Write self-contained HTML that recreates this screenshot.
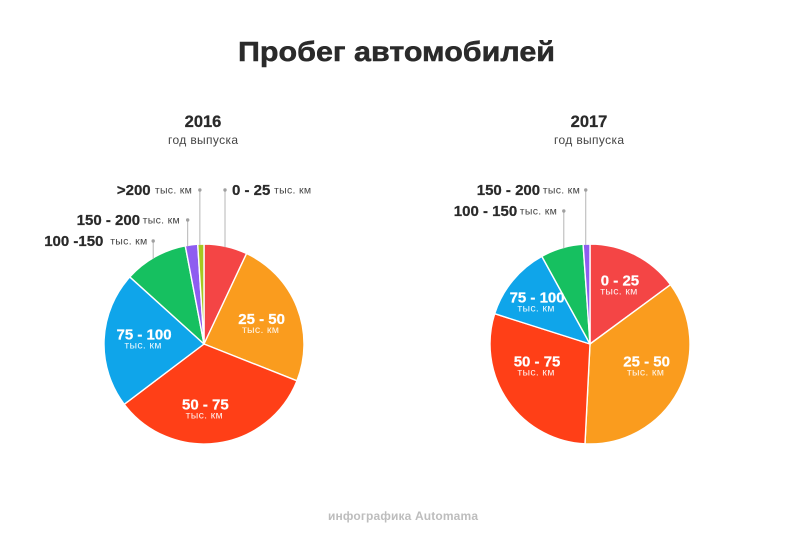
<!DOCTYPE html>
<html lang="ru">
<head>
<meta charset="utf-8">
<title>Пробег автомобилей</title>
<style>
html,body{margin:0;padding:0;background:#fff;}
svg{display:block;}
text{font-family:"Liberation Sans","DejaVu Sans",sans-serif;}
</style>
</head>
<body>
<svg id="chart" width="800" height="538" viewBox="0 0 800 538" xmlns="http://www.w3.org/2000/svg">
  <rect width="800" height="538" fill="#ffffff"/>
  <text x="396.5" y="61" text-anchor="middle" font-size="28" font-weight="700" fill="#2a2a2a" stroke="#2a2a2a" stroke-width="0.5" textLength="317" lengthAdjust="spacingAndGlyphs">Пробег автомобилей</text>
  <text x="203" y="127" text-anchor="middle" font-size="16.5" font-weight="700" fill="#2a2a2a" stroke="#2a2a2a" stroke-width="0.25">2016</text>
  <text x="203" y="144" text-anchor="middle" font-size="12" fill="#444444" textLength="70">год выпуска</text>
  <text x="589" y="127" text-anchor="middle" font-size="16.5" font-weight="700" fill="#2a2a2a" stroke="#2a2a2a" stroke-width="0.25">2017</text>
  <text x="589" y="144" text-anchor="middle" font-size="12" fill="#444444" textLength="70">год выпуска</text>
  <text x="403" y="520" text-anchor="middle" font-size="12" font-weight="700" fill="#bdbdbd" textLength="150">инфографика Automama</text>
  <g id="pie-2016"></g>
  <g id="pie-2017"></g>
</svg>
<script>
const categories = ['0 - 25', '25 - 50', '50 - 75', '75 - 100', '100 - 150', '150 - 200', '>200'];
const labels2016 = ['0 - 25', '25 - 50', '50 - 75', '75 - 100', '100 -150', '150 - 200', '>200'];
const values2016 = [7, 24, 33.7, 22, 10.3, 2, 1];
const values2017 = [14.9, 35.9, 29.1, 12.1, 6.9, 1.1, 0];
const sliceColors = ['#f44545', '#fa9c1e', '#ff3f17', '#0fa5ea', '#16c060', '#8e5df0', '#a5c820'];
const unitLabel = 'тыс. км';

const NS = 'http://www.w3.org/2000/svg';
const RADIUS = 100;

function make(parent, tag, attrs) {
  const el = document.createElementNS(NS, tag);
  for (const k in attrs) el.setAttribute(k, attrs[k]);
  parent.appendChild(el);
  return el;
}

function angleOf(values, share) {
  const total = values.reduce((a, b) => a + b, 0);
  return share / total * Math.PI * 2;
}

function polar(cx, cy, r, a) {
  return [cx + Math.sin(a) * r, cy - Math.cos(a) * r];
}

function midAngle(values, i) {
  let before = 0;
  for (let k = 0; k < i; k++) before += values[k];
  return angleOf(values, before + values[i] / 2);
}

function drawSlices(group, values, cx, cy) {
  let run = 0;
  values.forEach((v, i) => {
    if (v <= 0) return;
    const a0 = angleOf(values, run);
    const a1 = angleOf(values, run + v);
    run += v;
    const p0 = polar(cx, cy, RADIUS, a0);
    const p1 = polar(cx, cy, RADIUS, a1);
    const large = a1 - a0 > Math.PI ? 1 : 0;
    const path = make(group, 'path', {
      d: 'M' + cx + ' ' + cy + 'L' + p0[0] + ' ' + p0[1] + 'A' + RADIUS + ' ' + RADIUS + ' 0 ' + large + ' 1 ' + p1[0] + ' ' + p1[1] + 'Z',
      fill: sliceColors[i], stroke: '#ffffff', 'stroke-width': 1.4, 'stroke-linejoin': 'round'
    });
    
    
  });
}

function innerLabel(group, values, names, i, cx, cy, dx, dy) {
  const c = polar(cx, cy, 62, midAngle(values, i));
  const x = c[0] + dx;
  const y = c[1] + dy;
  const main = make(group, 'text', {
    x: x, y: y + 5, 'text-anchor': 'middle', 'font-size': 15, 'font-weight': 700, fill: '#ffffff', stroke: '#ffffff', 'stroke-width': 0.25
  });
  main.textContent = names[i];
  
  
  const sub = make(group, 'text', {
    x: x - 1, y: y + 14, 'text-anchor': 'middle', 'font-size': 10.5, fill: '#ffffff', 'fill-opacity': 0.9, 'letter-spacing': 0.3
  });
  sub.textContent = unitLabel;
  
  
}

function outerLabel(group, values, names, i, cx, cy, shift, topY, boldDx, unitDx) {
  const a = midAngle(values, i);
  const lx = polar(cx, cy, RADIUS, a)[0] + shift;
  const h = Math.sqrt(RADIUS * RADIUS - (lx - cx) * (lx - cx));
  const line = make(group, 'line', {
    x1: lx, y1: topY, x2: lx, y2: cy - h + 1, stroke: '#b5b5b5', 'stroke-width': 1
  });
  
  
  const dot = make(group, 'circle', { cx: lx, cy: topY, r: 1.7, fill: '#a0a0a0' });
  
  
  const main = make(group, 'text', {
    x: lx + boldDx, y: topY + 5, 'font-size': 15, 'font-weight': 700, fill: '#2a2a2a', stroke: '#2a2a2a', 'stroke-width': 0.25
  });
  main.textContent = names[i];
  
  
  const sub = make(group, 'text', {
    x: lx + unitDx, y: topY + 3.5, 'font-size': 10.5, fill: '#444444', 'letter-spacing': 0.3
  });
  sub.textContent = unitLabel;
  
  
}

const g16 = document.getElementById('pie-2016');
const g17 = document.getElementById('pie-2017');

drawSlices(g16, values2016, 204, 344);
innerLabel(g16, values2016, labels2016, 1, 204, 344, 0, -2);
innerLabel(g16, values2016, labels2016, 2, 204, 344, -7, -1);
innerLabel(g16, values2016, labels2016, 3, 204, 344, 2, -7);
outerLabel(g16, values2016, labels2016, 0, 204, 344, -0.8, 190, 7, 49);
outerLabel(g16, values2016, labels2016, 4, 204, 344, -1.8, 241, -109, -43);
outerLabel(g16, values2016, labels2016, 5, 204, 344, -3.8, 220, -111, -45);
outerLabel(g16, values2016, labels2016, 6, 204, 344, -1, 190, -83, -45);

drawSlices(g17, values2017, 590, 344);
innerLabel(g17, values2017, categories, 0, 590, 344, 2, -8);
innerLabel(g17, values2017, categories, 1, 590, 344, 2, -12);
innerLabel(g17, values2017, categories, 2, 590, 344, -2, -18);
innerLabel(g17, values2017, categories, 3, 590, 344, -5, -7);
outerLabel(g17, values2017, categories, 4, 590, 344, 2, 211, -110, -44);
outerLabel(g17, values2017, categories, 5, 590, 344, -0.8, 190, -109, -43);
</script>
</body>
</html>
